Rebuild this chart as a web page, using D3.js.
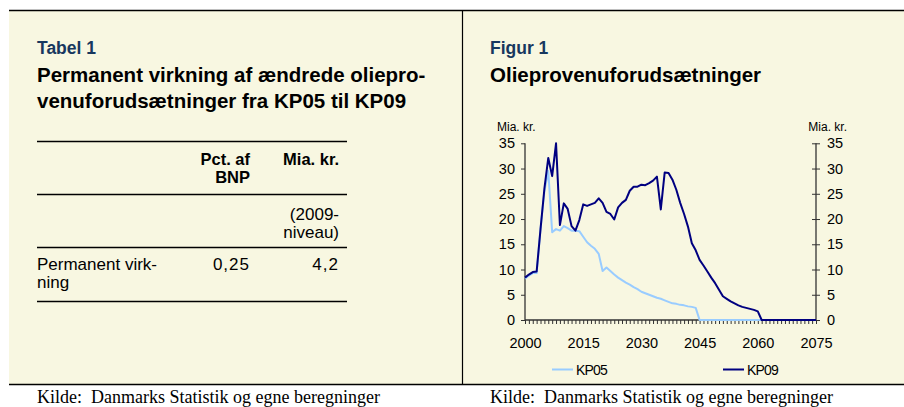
<!DOCTYPE html>
<html><head><meta charset="utf-8">
<script src="https://cdn.jsdelivr.net/npm/d3@7/dist/d3.min.js"></script>
<style>body{margin:0;background:#fff}svg{display:block}text{font-family:Arial,"Liberation Sans",sans-serif}</style>
</head><body>
<svg id="c" width="904" height="407"></svg>
<script>
// ---- data ----
const years = d3.range(2000, 2076);
const kp05 = [8.2, 8.8, 9.3, 9.3, 18.0, 25.5, 29.5, 17.4, 18.0, 17.7,
  18.6, 18.2, 17.7, 17.7, 17.6, 16.5, 15.4, 14.7, 14.1, 13.1,
  9.7, 10.4, 9.7, 9.0, 8.4, 7.9, 7.4, 7.0, 6.5, 6.1,
  5.6, 5.3, 5.0, 4.7, 4.4, 4.2, 3.9, 3.6, 3.3, 3.2,
  3.0, 2.9, 2.7, 2.6, 2.4,
  0, 0, 0, 0, 0, 0, 0, 0, 0, 0, 0, 0, 0, 0, 0, 0, 0, 0, 0, 0, 0, 0, 0, 0, 0, 0, 0, 0, 0, 0, 0];
const kp09 = [8.4, 9.0, 9.5, 9.6, 18.0, 26.0, 32.1, 28.5, 35.0, 18.8,
  23.1, 22.0, 18.6, 17.7, 19.8, 22.9, 22.6, 22.9, 23.2, 24.1,
  23.2, 21.4, 21.0, 19.9, 22.3, 23.2, 23.8, 25.6, 26.4, 26.4,
  26.8, 26.7, 27.1, 27.6, 28.4, 21.9, 29.2, 29.1, 27.8, 25.8,
  23.2, 21.0, 18.5, 15.2, 13.8, 11.9, 10.8, 9.6, 8.4, 7.3,
  6.0, 4.7, 4.2, 3.7, 3.3, 2.9, 2.6, 2.4, 2.2, 2.0, 1.7,
  0, 0, 0, 0, 0, 0, 0, 0, 0, 0, 0, 0, 0, 0, 0];
const seriesNames = ["KP05", "KP09"];
const seriesColors = ["#99CCFF", "#000080"];
const yTicks = [0, 5, 10, 15, 20, 25, 30, 35];
const xTickLabels = [2000, 2015, 2030, 2045, 2060, 2075];
const tableHeader = [["Pct. af", "BNP"], ["Mia. kr."]];
const tableUnit = ["(2009-", "niveau)"];
const tableRowLabel = ["Permanent virk-", "ning"];
const tableValues = ["0,25", "4,2"];

const svg = d3.select("#c");
const bg = "#F8F7E1";

// ---- frame ----
svg.append("rect").attr("x", 9).attr("y", 10).attr("width", 895).attr("height", 375).attr("fill", bg);
svg.append("line").attr("x1", 9).attr("x2", 904).attr("y1", 10.5).attr("y2", 10.5).attr("stroke", "#000").attr("stroke-width", 1.5);
svg.append("line").attr("x1", 9).attr("x2", 904).attr("y1", 384.5).attr("y2", 384.5).attr("stroke", "#000").attr("stroke-width", 1.5);
svg.append("line").attr("x1", 462.5).attr("x2", 462.5).attr("y1", 10).attr("y2", 385).attr("stroke", "#000").attr("stroke-width", 1.2);

// ---- source lines ----
[37, 490].forEach(x => svg.append("text").attr("x", x).attr("y", 402.5)
  .style("font-family", "'Liberation Serif','Times New Roman',serif").style("font-size", "18px")
  .attr("fill", "#000").text("Kilde:\u00A0 Danmarks Statistik og egne beregninger"));

// ---- left panel: table ----
const navy = "#17375E";
svg.append("text").attr("x", 37).attr("y", 54).attr("fill", navy).style("font-size", "17.5px").style("font-weight", "bold").text("Tabel 1");
const t1 = svg.append("text").attr("fill", "#000").style("font-size", "20.5px").style("font-weight", "bold");
t1.append("tspan").attr("x", 37).attr("y", 82).text("Permanent virkning af ændrede oliepro-");
t1.append("tspan").attr("x", 37).attr("y", 108).text("venuforudsætninger fra KP05 til KP09");

[141, 194, 247, 301].forEach(y => svg.append("line").attr("x1", 37).attr("x2", 347)
  .attr("y1", y + 0.5).attr("y2", y + 0.5).attr("stroke", "#000").attr("stroke-width", 1.3));

const colRight = [250, 339];
tableHeader.forEach((lines, i) => lines.forEach((s, j) =>
  svg.append("text").attr("x", colRight[i]).attr("y", 165 + j * 18).attr("text-anchor", "end")
    .style("font-size", "16.5px").style("font-weight", "bold").text(s)));
tableUnit.forEach((s, j) => svg.append("text").attr("x", 339).attr("y", 220 + j * 18)
  .attr("text-anchor", "end").style("font-size", "17px").text(s));
tableRowLabel.forEach((s, j) => svg.append("text").attr("x", 37).attr("y", 270 + j * 18)
  .style("font-size", "17px").text(s));
tableValues.forEach((s, i) => svg.append("text").attr("x", colRight[i]).attr("y", 270)
  .attr("text-anchor", "end").style("font-size", "17px").style("letter-spacing", "1px").text(s));

// ---- right panel: figure ----
svg.append("text").attr("x", 490).attr("y", 54).attr("fill", navy).style("font-size", "17.5px").style("font-weight", "bold").text("Figur 1");
svg.append("text").attr("x", 490).attr("y", 82).attr("fill", "#000").style("font-size", "20.5px").style("font-weight", "bold").text("Olieprovenuforudsætninger");

const L = 525, R = 816, T = 143.3, B = 320;
const x = d3.scaleLinear().domain([2000, 2075]).range([L, R]);
const y = d3.scaleLinear().domain([0, 35]).range([B, T]);

svg.append("text").attr("x", 497).attr("y", 131).style("font-size", "12px").text("Mia. kr.");
svg.append("text").attr("x", 847).attr("y", 131).attr("text-anchor", "end").style("font-size", "12px").text("Mia. kr.");

const axisColor = "#333";
const gl = svg.append("g").attr("transform", `translate(${L},0)`)
  .call(d3.axisLeft(y).tickValues(yTicks).tickSize(4).tickPadding(6).tickFormat(d3.format("d")));
const gr = svg.append("g").attr("transform", `translate(${R},0)`)
  .call(d3.axisRight(y).tickValues(yTicks).tickSize(4).tickPadding(7).tickFormat(d3.format("d")));
gr.selectAll(".tick line").attr("x1", -4);
const gb = svg.append("g").attr("transform", `translate(0,${B})`)
  .call(d3.axisBottom(x).tickValues(years).tickSize(4).tickPadding(14)
    .tickFormat(d => xTickLabels.includes(d) ? String(d) : ""));
[gl, gr, gb].forEach(g => {
  g.select(".domain").attr("stroke", axisColor).attr("stroke-width", 1.3);
  g.selectAll(".tick line").attr("stroke", axisColor);
  g.selectAll("text").attr("fill", "#000").style("font-size", "14.5px").style("font-family", "Arial,'Liberation Sans',sans-serif");
});
gl.select(".domain").attr("d", `M0,${T}V${B}`);
gr.select(".domain").attr("d", `M0,${T}V${B}`);
gb.select(".domain").attr("d", `M${L},0H${R}`);

const line = d3.line().x((d, i) => x(years[i])).y(d => y(d));
[kp05, kp09].forEach((s, k) => svg.append("path").datum(s).attr("d", line)
  .attr("fill", "none").attr("stroke", seriesColors[k]).attr("stroke-width", 2).attr("stroke-linejoin", "round"));

// ---- legend ----
const legX = [552, 723];
seriesNames.forEach((n, k) => {
  svg.append("line").attr("x1", legX[k]).attr("x2", legX[k] + 21).attr("y1", 369.5).attr("y2", 369.5)
    .attr("stroke", seriesColors[k]).attr("stroke-width", 2);
  svg.append("text").attr("x", legX[k] + 24).attr("y", 375).style("font-size", "14px").style("letter-spacing", "-0.8px").text(n);
});
</script>
</body></html>
